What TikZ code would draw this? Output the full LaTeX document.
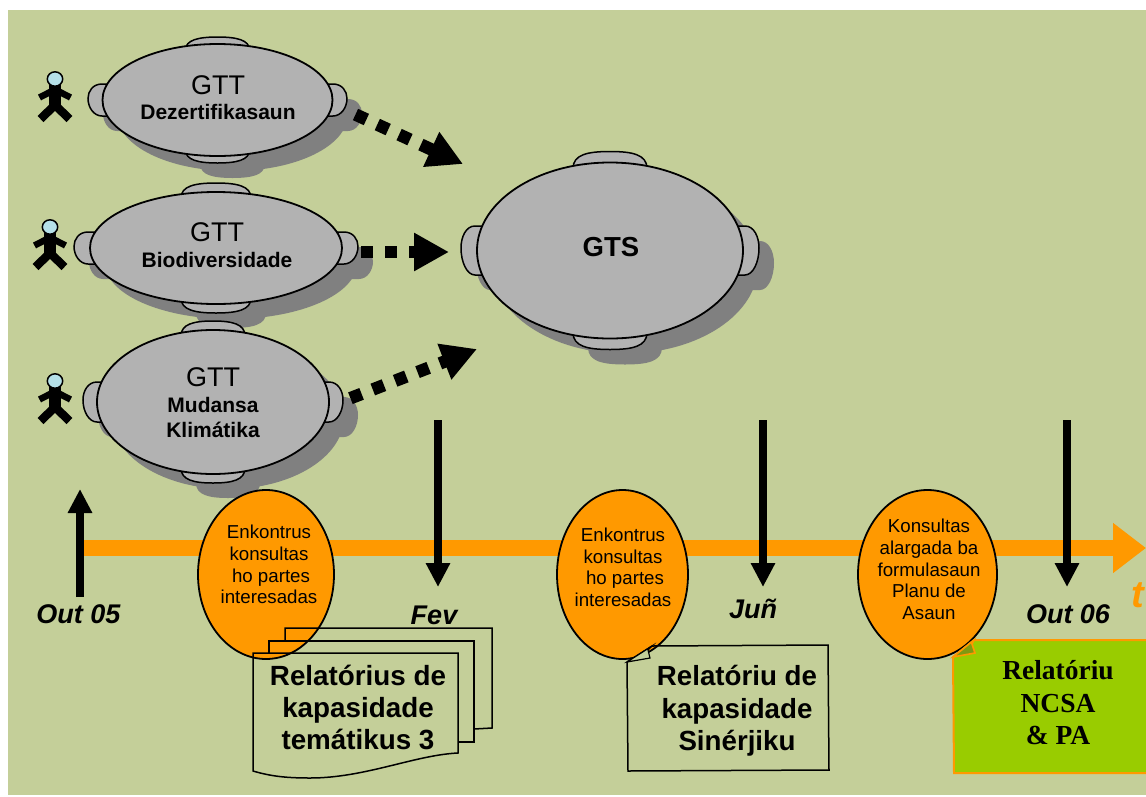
\documentclass[tikz,border=0pt]{standalone}
\usepackage{fontspec}
\setmainfont{Liberation Sans}
\newfontfamily\timesfam{Liberation Serif}
\usetikzlibrary{arrows.meta,shapes.geometric}
\definecolor{panelbg}{HTML}{C4CF99}
\definecolor{tablegrey}{HTML}{B2B2B2}
\definecolor{shadowgrey}{HTML}{808080}
\definecolor{tlorange}{HTML}{FF9900}
\definecolor{reportgreen}{HTML}{99CC00}
\definecolor{foldgreen}{HTML}{7F9A10}
\definecolor{headblue}{HTML}{B5E0E8}
\tikzset{
  tablebox/.style={ellipse,draw=black,line width=1.8pt,fill=tablegrey,inner sep=0pt,outer sep=0pt},
  meetbox/.style={ellipse,draw=black,line width=1.8pt,fill=tlorange,inner sep=0pt,outer sep=0pt},
  gttlabel/.style={anchor=base,inner sep=0pt,font=\fontsize{27}{30}\selectfont},
  grouplabel/.style={anchor=base,inner sep=0pt,font=\fontsize{21}{25}\selectfont\bfseries,align=center},
  meetlabel/.style={inner sep=0pt,align=center,font=\fontsize{18.7}{21.7}\selectfont},
  datelabel/.style={anchor=base,inner sep=0pt,font=\fontsize{27}{30}\selectfont\bfseries\itshape},
  doclabel/.style={inner sep=0pt,align=center,font=\fontsize{27.8}{32}\selectfont\bfseries},
  syndoclabel/.style={inner sep=0pt,align=center,font=\fontsize{27.7}{32.5}\selectfont\bfseries},
  greenlabel/.style={inner sep=0pt,align=center,font=\timesfam\fontsize{27.5}{32.5}\selectfont\bfseries},
  flowarrow/.style={line width=12.5pt,dash pattern=on 12pt off 12pt,-{Triangle[length=35pt,width=36pt]}},
  timearrow/.style={line width=8pt,-{Triangle[length=24pt,width=23pt]}},
  paperline/.style={draw=black,line width=1.5pt,line join=miter},
}
% top bump and side bump of a table, coordinates relative to its centre
\newcommand{\bumptop}[4]{(-#3,{-#2+6}) .. controls (-#3,{-#4+3}) and ({-0.6*#3},-#4) .. (0,-#4) .. controls ({0.6*#3},-#4) and (#3,{-#4+3}) .. (#3,{-#2+6}) -- cycle}
\newcommand{\bumpside}[4]{({-#1+18},#3) -- ({-#2+14},#3) .. controls ({-#2+5},#3) and (-#2,{#3+0.22*(#4-#3)}) .. (-#2,{#3+0.45*(#4-#3)}) .. controls (-#2,{#3+0.74*(#4-#3)}) and ({-#2+6},#4) .. ({-#2+14},#4) -- ({-#1+18},#4) -- cycle}
\newcommand{\conftable}[9]{%
  \begin{scope}[shift={(#2+15,#3+15)}]
    \fill[shadowgrey] (0,0) ellipse [x radius=#4pt,y radius=#5pt];
    \fill[shadowgrey] \bumptop{#4}{#5}{#6}{#7};
    \begin{scope}[yscale=-1]\fill[shadowgrey] \bumptop{#4}{#5}{#6}{#7};\end{scope}
    \fill[shadowgrey] \bumpside{#4}{#8}{#9}{-#9};
    \begin{scope}[xscale=-1]\fill[shadowgrey] \bumpside{#4}{#8}{#9}{-#9};\end{scope}
  \end{scope}
  \begin{scope}[shift={(#2,#3)}]
    \filldraw[fill=tablegrey,draw=black,line width=1.5pt] \bumptop{#4}{#5}{#6}{#7};
    \begin{scope}[yscale=-1]\filldraw[fill=tablegrey,draw=black,line width=1.5pt] \bumptop{#4}{#5}{#6}{#7};\end{scope}
    \filldraw[fill=tablegrey,draw=black,line width=1.5pt] \bumpside{#4}{#8}{#9}{-#9};
    \begin{scope}[xscale=-1]\filldraw[fill=tablegrey,draw=black,line width=1.5pt] \bumpside{#4}{#8}{#9}{-#9};\end{scope}
  \end{scope}
  \node[tablebox,minimum width=2*#4 pt,minimum height=2*#5 pt] (#1) at (#2,#3) {};}
\newcommand{\stickman}[2]{%
  \begin{scope}[shift={(#1,#2)}]
    \draw[line width=12pt] (0,6) -- (0,27);
    \draw[line width=6.5pt] (-15.5,18.5) -- (0,10.5) -- (15.5,18.5);
    \draw[line width=8.5pt,line join=miter] (-14.5,40) -- (0,26) -- (14.5,40);
    \filldraw[fill=headblue,draw=black,line width=1.5pt] (0,0) ellipse [x radius=7.7pt,y radius=7.2pt];
  \end{scope}}
\begin{document}
\begin{tikzpicture}[x=1pt,y=-1pt,line cap=butt]
\useasboundingbox (0,0) rectangle (1146,796);
\fill[white] (0,0) rectangle (1146,796);
\fill[panelbg] (8,10) rectangle (1146,795);

% timeline
\coordinate (tstart) at (84,548);
\coordinate (tend) at (1146,548);
\draw[tlorange,line width=16pt,-{Triangle[length=33pt,width=48pt]}] (tstart) -- (tend);

% tables
\conftable{tbla}{217.5}{100}{115}{56}{32}{63}{129.5}{-16}
\conftable{tblb}{216}{248}{126}{56}{35}{65}{142}{-16}
\conftable{tblc}{213}{402}{116}{72}{32}{81}{130}{-20}
\conftable{gts}{610}{250.5}{133}{88}{37}{99}{149}{-24.5}

\node[gttlabel] (ga) at (218,94) {GTT};
\node[grouplabel] (da) at (218,119) {Dezertifikasaun};
\node[gttlabel] (gb) at (217,241) {GTT};
\node[grouplabel] (db) at (217,267) {Biodiversidade};
\node[gttlabel] (gc) at (213,386) {GTT};
\node[grouplabel,anchor=center] (dc) at (213,417) {Mudansa\\Klimátika};
\node[anchor=base,inner sep=0pt,font=\fontsize{27.5}{30}\selectfont\bfseries] (gs) at (611,256) {GTS};

% people
\stickman{55}{79}
\stickman{50}{227}
\stickman{55}{381}

% flow arrows
\coordinate (fa) at (355.5,114.5); \coordinate (ta) at (463,164);
\coordinate (fb) at (361,252);     \coordinate (tb) at (449,252);
\coordinate (fc) at (350.4,398.2); \coordinate (tc) at (477,349);
\draw[flowarrow] (fa) -- (ta);
\draw[flowarrow] (fb) -- (tb);
\draw[flowarrow] (fc) -- (tc);

% meetings
\node[meetbox,minimum width=136pt,minimum height=169pt] (ma) at (266,574.5) {};
\node[meetbox,minimum width=131pt,minimum height=169pt] (mb) at (622.5,574.5) {};
\node[meetbox,minimum width=139pt,minimum height=169pt] (mc) at (927.5,574.5) {};
\node[meetlabel] (la) at (269,564.7) {Enkontrus\\konsultas\\\hspace*{4pt}ho partes\\interesadas};
\node[meetlabel] (lb) at (623,567.2) {Enkontrus\\konsultas\\\hspace*{4pt}ho partes\\interesadas};
\node[meetlabel] (lc) at (929,569.5) {Konsultas\\alargada ba\\formulasaun\\Planu de\\Asaun};

% time arrows
\coordinate (ua) at (80,597);  \coordinate (ub) at (80,489);
\coordinate (va) at (438,420); \coordinate (vb) at (438,587);
\coordinate (wa) at (763,420); \coordinate (wb) at (763,587);
\coordinate (xa) at (1067,420);\coordinate (xb) at (1067,587);
\draw[timearrow] (ua) -- (ub);
\draw[timearrow] (va) -- (vb);
\draw[timearrow] (wa) -- (wb);
\draw[timearrow] (xa) -- (xb);

% date labels
\node[datelabel] (d1) at (78.5,623) {Out 05};
\node[datelabel] (d2) at (434,624) {Fev};
\node[datelabel] (d3) at (753,618) {Juñ};
\node[datelabel] (d4) at (1068,623) {Out 06};
\node[anchor=base west,inner sep=0pt,text=tlorange,font=\fontsize{38}{40}\selectfont\bfseries\itshape] (tl) at (1131,607) {t};

% stacked reports
\draw[paperline] (285,641) -- (285,628) -- (492,628) -- (492,728) -- (474,729);
\draw[paperline] (269,653) -- (269,641) -- (474,641) -- (474,742) -- (458,742);
\draw[paperline] (253,653) -- (458,653) -- (458,753) .. controls (415,755) and (365,778) .. (310,778) .. controls (285,778) and (270,776) .. (253,771) -- cycle;
\node[doclabel] (rep) at (358,707.5) {Relatórius de\\kapasidade\\temátikus 3};

% synergy report
\draw[draw=black,line width=1.5pt,line join=miter] (627,662) -- (652,646) -- (828,645) -- (829,770) -- (628,771) -- cycle;
\draw[draw=black,line width=1.2pt,fill=panelbg,line join=miter] (627,662) -- (650,658) -- (648,650) -- (652,646) -- cycle;
\node[syndoclabel] (syn) at (737,711) {Relatóriu de\\kapasidade\\Sinérjiku};

% final report
\filldraw[fill=reportgreen,draw=tlorange,line width=2pt,line join=miter] (953,657) -- (974,640) -- (1147,640) -- (1147,773) -- (954,773) -- cycle;
\filldraw[fill=foldgreen,draw=tlorange,line width=1.6pt,line join=miter] (953,657) -- (975,653) -- (972,644) -- (974,640) -- cycle;
\node[greenlabel] (fin) at (1058,703) {Relatóriu\\NCSA\\\& PA};
\end{tikzpicture}
\end{document}
